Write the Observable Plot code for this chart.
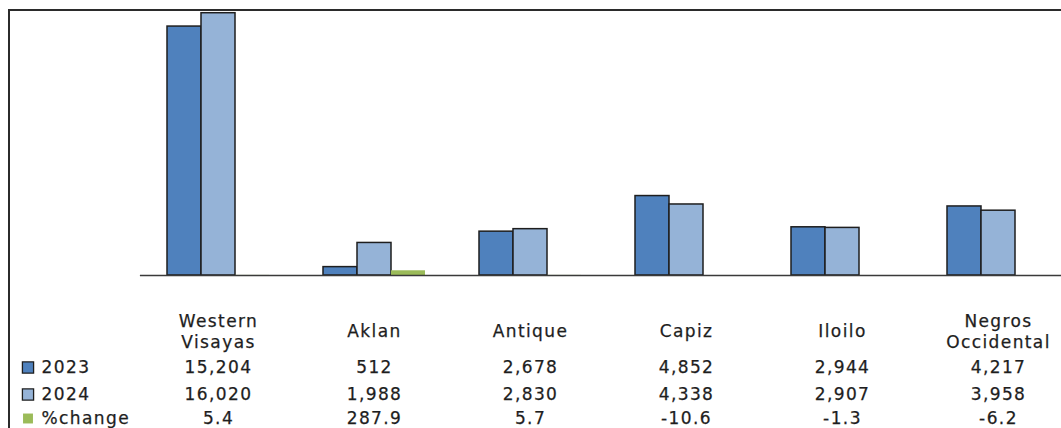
<!DOCTYPE html>
<html><head><meta charset="utf-8">
<script src="https://cdn.jsdelivr.net/npm/d3@7"></script>
<script src="https://cdn.jsdelivr.net/npm/@observablehq/plot@0.6"></script>
<style>
html,body{margin:0;padding:0;background:#fff;overflow:hidden;}
#chart{position:relative;width:1061px;height:428px;overflow:hidden;}
#frame{position:absolute;left:8px;top:8.5px;width:1100px;height:460px;border-left:2px solid #2b2b2b;border-top:2px solid #2b2b2b;pointer-events:none;}
#chart svg text{letter-spacing:1.4px;stroke:#1e1e1e;stroke-width:0.25px;}
</style></head><body>
<div id="chart"><div id="frame"></div></div>
<script>
const categories = ["Western Visayas","Aklan","Antique","Capiz","Iloilo","Negros Occidental"];
const series = ["2023","2024","%change"];
const values2023 = [15204,512,2678,4852,2944,4217];
const values2024 = [16020,1988,2830,4338,2907,3958];
const pctChange = [5.4,287.9,5.7,-10.6,-1.3,-6.2];
const colors = ["#4F81BD","#95B3D7","#9BBB59"];

const rows = [values2023, values2024, pctChange];
const table = [];
categories.forEach((c, i) => rows.forEach((r, j) => table.push({category: c, series: series[j], value: r[i]})));

const fmtCount = d3.format(",");
const fmtPct = d => d.toFixed(1);
const ink = "#1e1e1e";
const rowDy = [97, 124, 148];
const twoLine = d => d.includes(" ");

const marks = [
  Plot.barY(table.filter(d => d.series !== "%change"), {fx: "category", x: "series", y: "value", fill: "series", stroke: ink, strokeWidth: 1.5}),
  Plot.barY(table.filter(d => d.series === "%change"), {fx: "category", x: "series", y: "value", fill: "series"}),
  Plot.ruleY([0], {stroke: "#3a3a3a", strokeWidth: 1.6, insetLeft: -26.1, insetRight: -26.1}),
  Plot.text(categories.filter(twoLine), {fx: d => d, text: d => d.replace(" ", "\n"), frameAnchor: "bottom", dy: 72, lineHeight: 1.18, fill: ink}),
  Plot.text(categories.filter(d => !twoLine(d)), {fx: d => d, text: d => d, frameAnchor: "bottom", dy: 61, fill: ink})
];
series.forEach((s, j) => {
  const fmt = j < 2 ? fmtCount : fmtPct;
  marks.push(Plot.text(table.filter(d => d.series === s), {fx: "category", text: d => fmt(d.value), frameAnchor: "bottom", dy: rowDy[j], fill: ink}));
  marks.push(Plot.dot([s], {fx: () => categories[0], frameAnchor: "bottom-left", dx: -138.5, dy: rowDy[j] - 5, symbol: "square", r: j < 2 ? 6.3 : 5.6, fill: colors[j], stroke: j < 2 ? ink : "none", strokeWidth: 1.3}));
  marks.push(Plot.text([s], {fx: () => categories[0], text: d => d, frameAnchor: "bottom-left", textAnchor: "start", dx: -125, dy: rowDy[j], fill: ink}));
});

const plot = Plot.plot({
  width: 1061,
  height: 428,
  marginTop: 12.7,
  marginBottom: 153,
  marginLeft: 139,
  marginRight: -15,
  style: {fontFamily: "'DejaVu Sans', Verdana, sans-serif", fontSize: "17px", background: "transparent", overflow: "visible"},
  fx: {domain: categories, paddingInner: 0.334, paddingOuter: 0.167, axis: null},
  x: {domain: series, padding: 0, axis: null},
  y: {domain: [0, 16020], axis: null},
  color: {domain: series, range: colors},
  marks
});
plot.style.position = "absolute";
plot.style.left = "0";
plot.style.top = "0";
plot.querySelectorAll("text").forEach(t => t.setAttribute("font-size", "17"));
document.getElementById("chart").insertBefore(plot, document.getElementById("frame"));
</script>
</body></html>
